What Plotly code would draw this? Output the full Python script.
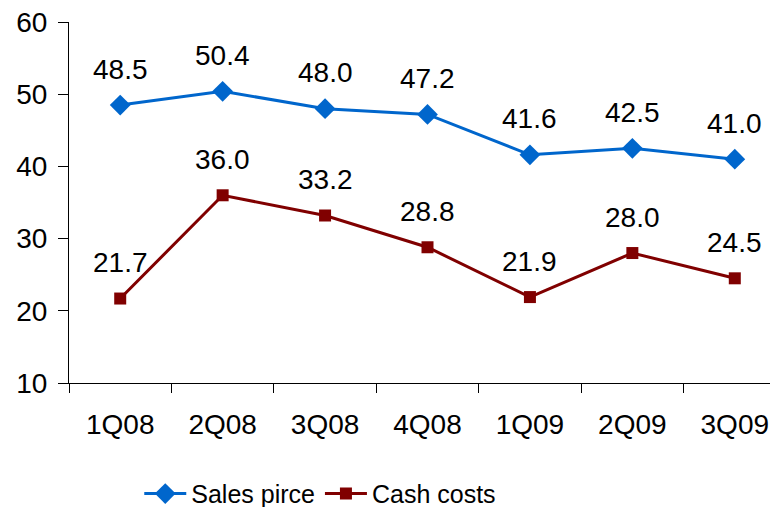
import plotly.graph_objects as go

categories = ["1Q08", "2Q08", "3Q08", "4Q08", "1Q09", "2Q09", "3Q09"]
sales_price = [48.5, 50.4, 48.0, 47.2, 41.6, 42.5, 41.0]
cash_costs = [21.7, 36.0, 33.2, 28.8, 21.9, 28.0, 24.5]
y_ticks = [10, 20, 30, 40, 50, 60]

FONT = "Liberation Sans, Arial, sans-serif"
BLUE = "#0066CC"
RED = "#800000"

fig = go.Figure()
fig.add_trace(go.Scatter(
    x=categories, y=sales_price, name="Sales pirce", mode="lines+markers",
    line=dict(color=BLUE, width=3),
    marker=dict(symbol="diamond", size=16, color=BLUE),
))
fig.add_trace(go.Scatter(
    x=categories, y=cash_costs, name="Cash costs", mode="lines+markers",
    line=dict(color=RED, width=3),
    marker=dict(symbol="square", size=12, color=RED),
))

annotations = []
for series in (sales_price, cash_costs):
    for c, v in zip(categories, series):
        annotations.append(dict(
            x=c, y=v, text=f"{v:.1f}", showarrow=False,
            xanchor="center", yanchor="middle", yshift=36,
            font=dict(family=FONT, size=28, color="#000000"),
        ))

fig.update_layout(
    width=778, height=507,
    margin=dict(l=61, r=0, t=14, b=132, autoexpand=False),
    paper_bgcolor="white", plot_bgcolor="white",
    font=dict(family=FONT, size=28, color="#000000"),
    showlegend=True,
    legend=dict(
        orientation="h", x=0.098, xanchor="left", y=-0.307, yanchor="middle",
        font=dict(family=FONT, size=25, color="#000000"),
        itemwidth=42, tracegroupgap=0,
    ),
    annotations=annotations,
    hovermode=False,
)
fig.update_xaxes(
    type="category", range=[-0.5, 6.5], automargin=False,
    showline=True, linecolor="#000000", linewidth=1,
    ticks="outside", ticklen=9, tickcolor="#000000", tickson="boundaries",
    showgrid=False, zeroline=False,
    tickfont=dict(family=FONT, size=28),
    ticklabelstandoff=16, ticklabeloverflow="allow",
)
fig.update_yaxes(
    range=[10, 60], tickvals=y_ticks, automargin=False,
    showline=True, linecolor="#000000", linewidth=1,
    ticks="outside", ticklen=10, tickcolor="#000000",
    showgrid=False, zeroline=False,
    tickfont=dict(family=FONT, size=28),
    ticklabelstandoff=5, ticklabeloverflow="allow",
)

fig.write_html("out.html")
